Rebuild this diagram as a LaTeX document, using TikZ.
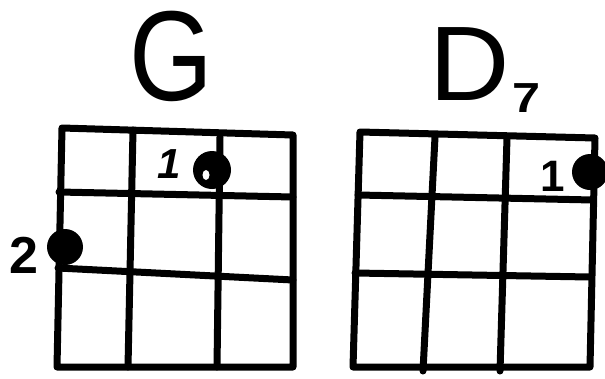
\documentclass[tikz,border=0pt]{standalone}
\usepackage{fontspec}
\setmainfont{Liberation Sans}
\begin{document}
\begin{tikzpicture}[x=1pt,y=-1pt,
  gridline/.style={line width=7pt, line cap=round, line join=round},
  fingerdot/.style={circle, fill=black, inner sep=0pt},
  title/.style={inner sep=0pt, anchor=base, text height=0.72em, text depth=0pt},
  finger/.style={inner sep=0pt, anchor=base, font=\bfseries}]
\useasboundingbox[fill=white] (0,0) rectangle (605,378);
% ---- G chord ----
\node[title, font=\fontsize{128}{128}\selectfont, xscale=0.84] (gtitle) at (171,100) {G};
\draw[gridline] (62,128) -- (293,135) -- (293,367) -- (57,367) -- cycle;
\draw[gridline] (59,192) -- (293,197);
\draw[gridline] (58,268) -- (293,280);
\draw[gridline] (133,130) -- (128,367);
\draw[gridline] (220,137) -- (217,367);
\node[fingerdot, minimum size=38pt] (gdotA) at (212,170) {};
\fill[white] (206,175) ellipse (3.5pt and 5pt);
\node[fingerdot, minimum size=36pt] (gdotB) at (65,247) {};
\node[finger, font=\bfseries\itshape\fontsize{42}{42}\selectfont] (gone) at (169,178) {1};
\node[finger, font=\bfseries\fontsize{52}{52}\selectfont] (gtwo) at (24,273) {2};
% ---- D7 chord ----
\node[title, font=\fontsize{106}{106}\selectfont, xscale=1.05] (dtitle) at (470,100) {D};
\node[finger, font=\bfseries\fontsize{42}{42}\selectfont, xscale=1.2] (dseven) at (527,112) {7};
\draw[gridline] (360,132) -- (595,138) -- (590,367) -- (353,367) -- cycle;
\draw[gridline] (358,195) -- (593,200);
\draw[gridline] (355,273) -- (590,277);
\draw[gridline] (435,137) -- (423,371);
\draw[gridline] (507,138) -- (500,371);
\node[fingerdot, minimum size=36pt] (ddot) at (590,172) {};
\node[finger, font=\bfseries\fontsize{44}{44}\selectfont] (done) at (553,191) {1};
\end{tikzpicture}
\end{document}
